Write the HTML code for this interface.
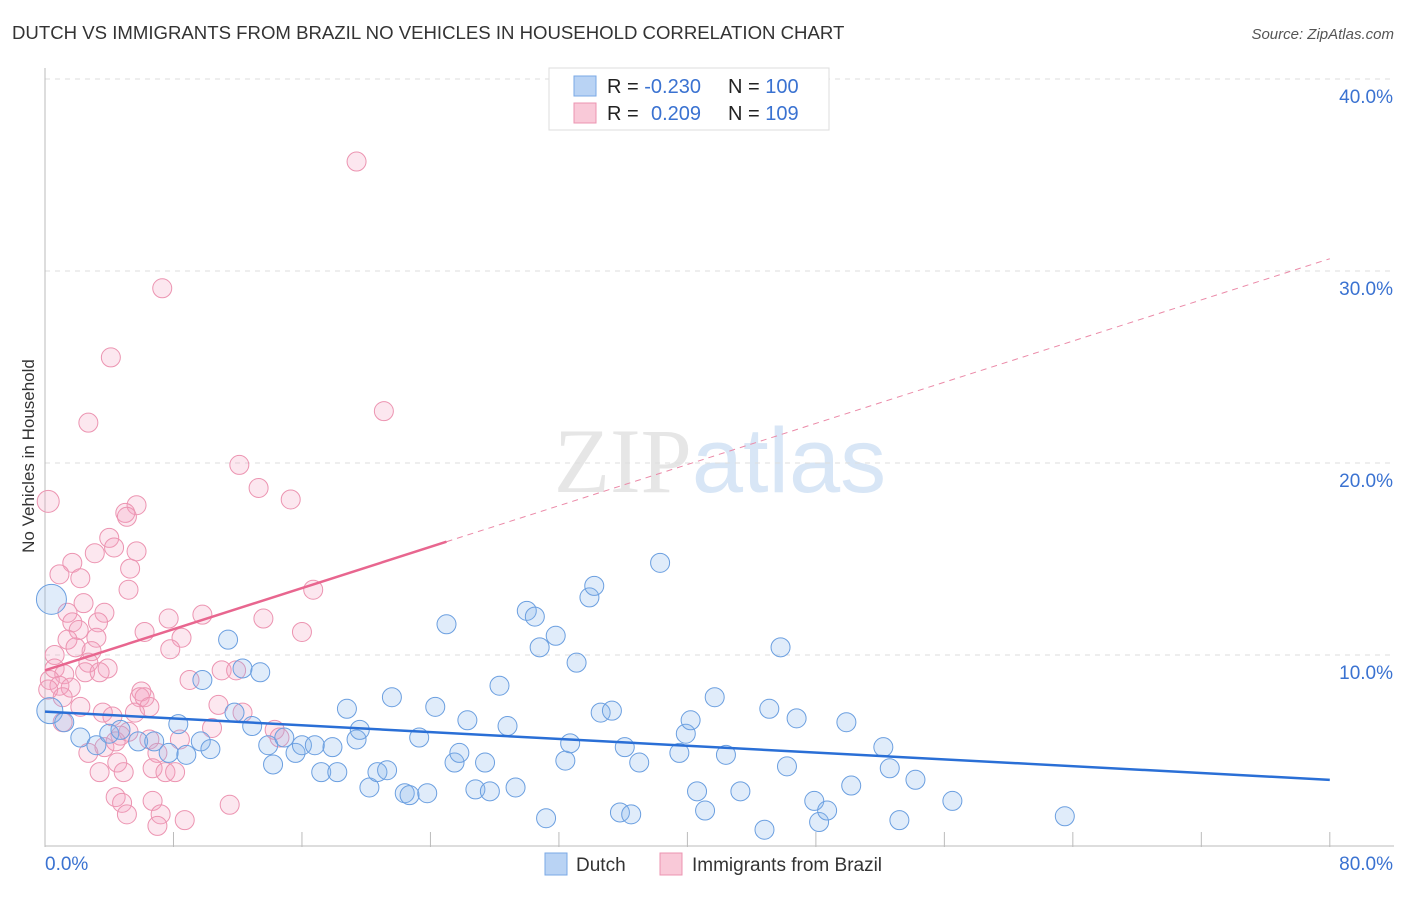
<!DOCTYPE html>
<html><head><meta charset="utf-8"><style>
body{margin:0;background:#fff;font-family:"Liberation Sans",sans-serif}
svg text{font-family:"Liberation Sans",sans-serif}
</style></head><body>
<svg id="c" width="1406" height="892" xmlns="http://www.w3.org/2000/svg">
<text x="12" y="39" font-size="18.6" fill="#333">DUTCH VS IMMIGRANTS FROM BRAZIL NO VEHICLES IN HOUSEHOLD CORRELATION CHART</text>
<text x="1394" y="39" font-size="15" fill="#555" font-style="italic" text-anchor="end">Source: ZipAtlas.com</text>
<text x="34" y="456" font-size="17" fill="#333" text-anchor="middle" transform="rotate(-90 34 456)">No Vehicles in Household</text>
<text x="720" y="492" font-size="92" fill="#e6e6e6" text-anchor="middle" font-family="Liberation Serif"><tspan font-family="Liberation Serif">ZIP</tspan><tspan fill="#d8e6f6" font-family="Liberation Sans">atlas</tspan></text>
<g id="grid"></g><g id="pts"></g><g id="lines"></g>
<g>
<rect x="549" y="68" width="280" height="62" fill="#fff" stroke="#ddd"/>
<rect x="574" y="76" width="22" height="20" fill="#b9d3f4" stroke="#7aa8e6"/>
<rect x="574" y="103" width="22" height="20" fill="#f9c9d8" stroke="#ec94b1"/>
<text x="607" y="93" font-size="20" fill="#222">R = <tspan fill="#3a72d1">-0.230</tspan><tspan x="728">N = </tspan><tspan fill="#3a72d1">100</tspan></text>
<text x="607" y="120" font-size="20" fill="#222">R = <tspan x="651" fill="#3a72d1">0.209</tspan><tspan x="728">N = </tspan><tspan fill="#3a72d1">109</tspan></text>
</g>
<rect x="545" y="853" width="22" height="22" fill="#b9d3f4" stroke="#7aa8e6"/>
<text x="576" y="871" font-size="19" fill="#333">Dutch</text>
<rect x="660" y="853" width="22" height="22" fill="#f9c9d8" stroke="#ec94b1"/>
<text x="692" y="871" font-size="19" fill="#333">Immigrants from Brazil</text>
</svg>
<script>
const yTicks=[10,20,30,40];
const yTickLabels=["10.0%","20.0%","30.0%","40.0%"];
const xTickLabels=["0.0%","80.0%"];
const dutchX=[0.4,0.3,1.2,2.2,3.2,4.0,4.7,5.8,6.8,7.7,8.3,8.8,9.7,9.8,10.3,11.4,11.8,12.3,12.9,13.4,13.9,14.2,14.9,15.6,16.0,16.8,17.2,17.9,18.2,18.8,19.4,19.6,20.2,20.7,21.3,21.6,22.4,22.7,23.3,23.8,24.3,25.0,25.5,25.8,26.3,26.8,27.4,27.7,28.3,28.8,29.3,30.0,30.5,30.8,31.2,31.8,32.4,32.7,33.1,33.9,34.2,34.6,35.3,35.8,36.1,36.5,37.0,38.3,39.5,39.9,40.2,40.6,41.1,41.7,42.4,43.3,44.8,45.1,45.8,46.2,46.8,47.9,48.2,48.7,49.9,50.2,52.2,52.6,53.2,54.2,56.5,63.5];
const dutchY=[12.9,7.1,6.5,5.7,5.3,5.9,6.1,5.5,5.5,4.9,6.4,4.8,5.5,8.7,5.1,10.8,7.0,9.3,6.3,9.1,5.3,4.3,5.7,4.9,5.3,5.3,3.9,5.2,3.9,7.2,5.6,6.1,3.1,3.9,4.0,7.8,2.8,2.7,5.7,2.8,7.3,11.6,4.4,4.9,6.6,3.0,4.4,2.9,8.4,6.3,3.1,12.3,12.0,10.4,1.5,11.0,4.5,5.4,9.6,13.0,13.6,7.0,7.1,1.8,5.2,1.7,4.4,14.8,4.9,5.9,6.6,2.9,1.9,7.8,4.8,2.9,0.9,7.2,10.4,4.2,6.7,2.4,1.3,1.9,6.5,3.2,5.2,4.1,1.4,3.5,2.4,1.6];
const brazilX=[0.2,19.4,7.3,4.1,2.7,21.1,12.1,13.3,15.3,5.7,5.0,5.1,4.0,4.3,3.1,5.7,1.7,5.3,0.9,2.2,16.7,5.2,2.4,1.4,3.7,9.8,13.6,7.7,1.7,3.3,2.1,6.2,16.0,8.5,3.2,1.4,7.8,2.9,1.9,0.6,2.7,3.9,11.0,11.9,0.6,1.2,2.5,3.4,0.3,0.9,1.6,0.2,9.0,6.0,5.9,6.2,1.1,2.2,6.5,10.8,12.3,5.6,3.6,4.2,1.1,10.4,14.3,14.6,5.2,4.7,6.5,8.4,3.7,4.4,7.0,2.7,4.5,6.7,7.5,8.1,3.4,4.9,6.7,4.4,4.8,11.5,5.1,7.2,8.7,7.0];
const brazilY=[18.0,35.7,29.1,25.5,22.1,22.7,19.9,18.7,18.1,17.8,17.4,17.2,16.1,15.6,15.3,15.4,14.8,14.5,14.2,14.0,13.4,13.4,12.7,12.2,12.2,12.1,11.9,11.9,11.7,11.7,11.3,11.2,11.2,10.9,10.9,10.8,10.3,10.2,10.4,10.0,9.6,9.3,9.2,9.2,9.3,9.0,9.1,9.1,8.7,8.4,8.3,8.2,8.7,8.1,7.8,7.8,7.8,7.3,7.3,7.4,7.0,7.0,7.0,6.8,6.5,6.2,6.1,5.7,6.0,5.8,5.6,5.6,5.2,5.5,4.9,4.9,4.4,4.1,3.9,3.9,3.9,3.9,2.4,2.6,2.3,2.2,1.7,1.7,1.4,1.1];
const dutchFit=[7.05,-0.0444];
const brazilFit=[9.2,0.268];
const X=v=>45+v*16.06, Y=v=>847-v*19.2;
const NS="http://www.w3.org/2000/svg";
function mk(p,t,a){const e=document.createElementNS(NS,t);for(const k in a)e.setAttribute(k,a[k]);p.appendChild(e);return e;}
const g=document.getElementById('grid');
yTicks.forEach((t,i)=>{
 const l=mk(g,'line',{x1:45,x2:1394,y1:Y(t),y2:Y(t),stroke:'#ddd','stroke-dasharray':'5,5'});
 
 
 const tx=mk(g,'text',{x:1393,y:Y(t)+24,'font-size':19,fill:'#3a72d1','text-anchor':'end'});
 tx.textContent=yTickLabels[i];
 
 
});
mk(g,'line',{x1:45,x2:45,y1:68,y2:847,stroke:'#bbb'});
mk(g,'line',{x1:45,x2:1394,y1:846,y2:846,stroke:'#bbb'});
for(let i=1;i<=10;i++){const t=mk(g,'line',{x1:X(i*8),x2:X(i*8),y1:832,y2:847,stroke:'#bbb'});
 
 }
[[0,45,'start'],[80,1393,'end']].forEach((d,i)=>{const t=mk(g,'text',{x:d[1],y:870,'font-size':19,fill:'#3a72d1','text-anchor':d[2]});t.textContent=xTickLabels[i];
 
 });
const P=document.getElementById('pts');
brazilX.forEach((x,i)=>{const c=mk(P,'circle',{cx:X(x),cy:Y(brazilY[i]),r:i==0?11:9.5,fill:'rgba(244,160,190,0.25)',stroke:'#ec94b1','stroke-width':1});
 
 });
dutchX.forEach((x,i)=>{const c=mk(P,'circle',{cx:X(x),cy:Y(dutchY[i]),r:i==0?15:(i==1?13:9.5),fill:'rgba(130,180,235,0.25)',stroke:'#6b9fe0','stroke-width':1});
 
 });
const L=document.getElementById('lines');
let a=mk(L,'line',{x1:X(0),y1:Y(dutchFit[0]),x2:X(80),y2:Y(dutchFit[0]+80*dutchFit[1]),stroke:'#2a6fd6','stroke-width':2.5});


let b=mk(L,'line',{x1:X(0),y1:Y(brazilFit[0]),x2:X(25),y2:Y(brazilFit[0]+25*brazilFit[1]),stroke:'#e8668f','stroke-width':2.5});


let d=mk(L,'line',{x1:X(25),y1:Y(brazilFit[0]+25*brazilFit[1]),x2:X(80),y2:Y(brazilFit[0]+80*brazilFit[1]),stroke:'#eb8aa8','stroke-width':1,'stroke-dasharray':'6,5'});


</script>
</body></html>
